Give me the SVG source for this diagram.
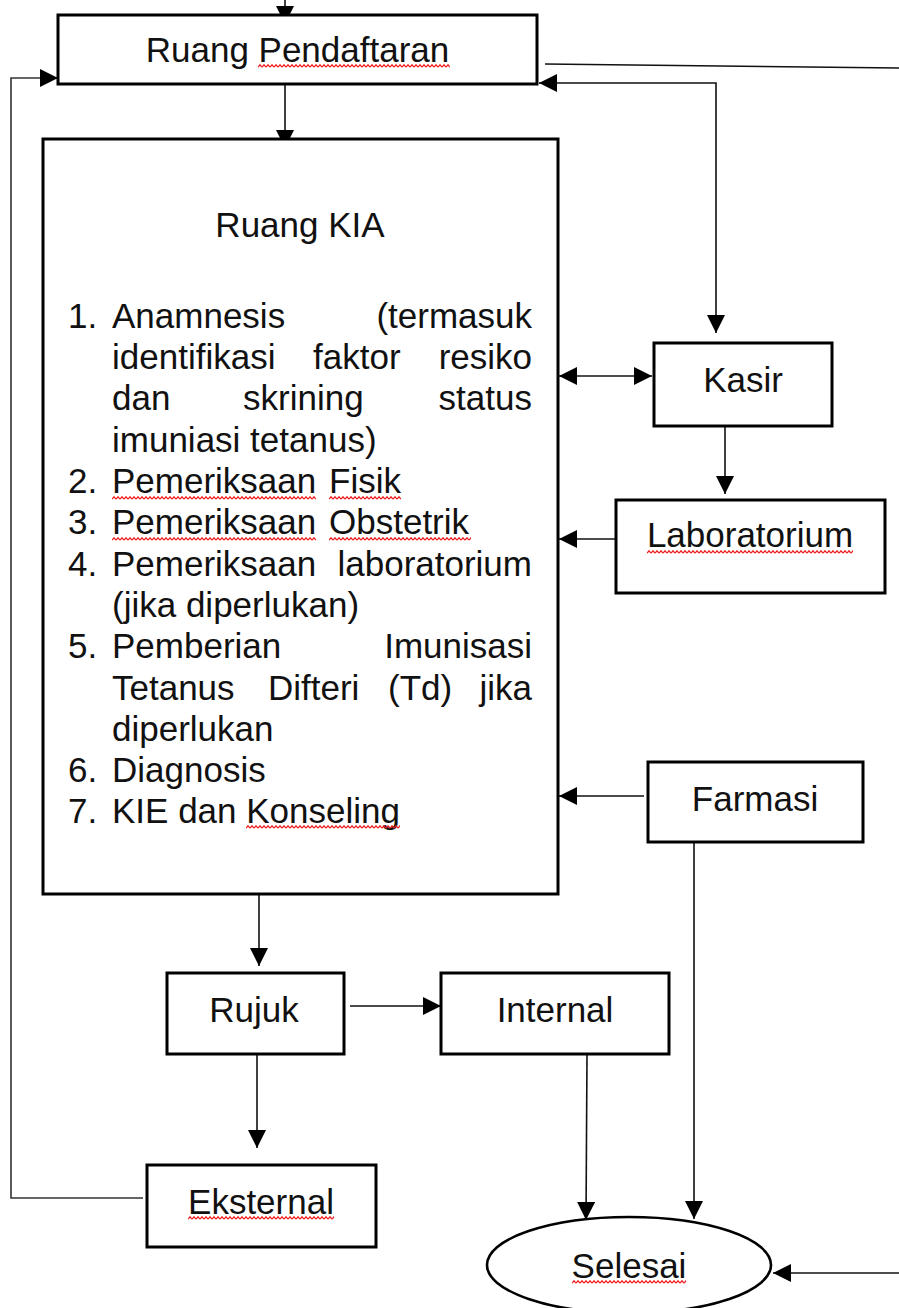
<svg xmlns="http://www.w3.org/2000/svg" width="899" height="1308" viewBox="0 0 899 1308">
  <style>
    .box { fill: #fff; stroke: #000; stroke-width: 3; }
    .t { font-family: "Liberation Sans", Arial, sans-serif; font-size: 35px; fill: #111; }
    .c { text-anchor: middle; }
    .e { text-anchor: end; }
    .ln { fill: none; stroke: #111; stroke-width: 1.6; }
    .arr { marker-end: url(#ah); }
    .sq { fill: url(#wave); }
  </style>
  <defs>
    <marker id="ah" markerUnits="userSpaceOnUse" markerWidth="18" markerHeight="18" refX="18" refY="9" orient="auto-start-reverse">
      <path d="M0,0 L18,9 L0,18 Z" fill="#000"/>
    </marker>
    <pattern id="wave" patternUnits="userSpaceOnUse" width="4" height="4">
      <path d="M0,3.2 L2,0.8 L4,3.2" fill="none" stroke="#ee1c1c" stroke-width="1.3"/>
    </pattern>
  </defs>

  <g id="connectors">
    <line class="ln arr" x1="285" y1="0" x2="285" y2="24"/>
    <line class="ln arr" x1="285" y1="84" x2="285" y2="148"/>
    <line class="ln" x1="545" y1="64" x2="899" y2="68"/>
    <path class="ln arr" d="M539,83 L716,83 L716,333" style="marker-start:url(#ah)"/>
    <line class="ln arr" x1="559" y1="376" x2="652" y2="376" style="marker-start:url(#ah)"/>
    <line class="ln arr" x1="725" y1="426" x2="725" y2="494"/>
    <line class="ln arr" x1="616" y1="539" x2="559" y2="539"/>
    <line class="ln arr" x1="644" y1="796" x2="559" y2="796"/>
    <line class="ln arr" x1="259" y1="894" x2="259" y2="966"/>
    <line class="ln arr" x1="350" y1="1006" x2="441" y2="1006"/>
    <line class="ln arr" x1="257" y1="1054" x2="257" y2="1148"/>
    <path class="ln arr" d="M143,1198 L11,1198 L11,78 L58,78" style="stroke:#333"/>
    <line class="ln arr" x1="587" y1="1054" x2="586" y2="1220"/>
    <line class="ln arr" x1="694" y1="842" x2="694" y2="1219"/>
    <line class="ln arr" x1="899" y1="1273" x2="773" y2="1273"/>
  </g>

  <g id="ruang-pendaftaran">
    <rect class="box" x="58" y="15" width="479" height="69"/>
    <text class="t c" x="297.5" y="62">Ruang Pendaftaran</text>
    <rect class="sq" x="0" y="0" width="192" height="4" transform="translate(258,64)"/>
  </g>

  <g id="ruang-kia">
    <rect class="box" x="43" y="139" width="515" height="755"/>
    <text class="t c" x="300" y="237">Ruang KIA</text>
    <text class="t" x="68" y="328">1.</text>
    <text class="t" x="112" y="328">Anamnesis</text>
    <text class="t e" x="532" y="328">(termasuk</text>
    <text class="t" x="112" y="369">identifikasi</text>
    <text class="t" x="313" y="369">faktor</text>
    <text class="t e" x="532" y="369">resiko</text>
    <text class="t" x="112" y="410">dan</text>
    <text class="t" x="243" y="410">skrining</text>
    <text class="t e" x="532" y="410">status</text>
    <text class="t" x="112" y="452">imuniasi tetanus)</text>
    <text class="t" x="68" y="493">2.</text>
    <text class="t" x="112" y="493">Pemeriksaan</text>
    <text class="t" x="329" y="493">Fisik</text>
    <text class="t" x="68" y="534">3.</text>
    <text class="t" x="112" y="534">Pemeriksaan</text>
    <text class="t" x="329" y="534">Obstetrik</text>
    <text class="t" x="68" y="576">4.</text>
    <text class="t" x="112" y="576">Pemeriksaan</text>
    <text class="t e" x="532" y="576">laboratorium</text>
    <text class="t" x="112" y="617">(jika diperlukan)</text>
    <text class="t" x="68" y="658">5.</text>
    <text class="t" x="112" y="658">Pemberian</text>
    <text class="t e" x="532" y="658">Imunisasi</text>
    <text class="t" x="112" y="700">Tetanus</text>
    <text class="t" x="268" y="700">Difteri</text>
    <text class="t" x="388" y="700">(Td)</text>
    <text class="t e" x="532" y="700">jika</text>
    <text class="t" x="112" y="741">diperlukan</text>
    <text class="t" x="68" y="782">6.</text>
    <text class="t" x="112" y="782">Diagnosis</text>
    <text class="t" x="68" y="823">7.</text>
    <text class="t" x="112" y="823">KIE dan Konseling</text>
    <rect class="sq" x="0" y="0" width="204" height="4" transform="translate(112,496)"/>
    <rect class="sq" x="0" y="0" width="72" height="4" transform="translate(329,496)"/>
    <rect class="sq" x="0" y="0" width="204" height="4" transform="translate(112,537)"/>
    <rect class="sq" x="0" y="0" width="142" height="4" transform="translate(329,537)"/>
    <rect class="sq" x="0" y="0" width="154" height="4" transform="translate(246,825)"/>
  </g>

  <g id="kasir">
    <rect class="box" x="654" y="343" width="178" height="83"/>
    <text class="t c" x="743" y="392">Kasir</text>
  </g>

  <g id="laboratorium">
    <rect class="box" x="616" y="500" width="269" height="93"/>
    <text class="t c" x="750" y="547">Laboratorium</text>
    <rect class="sq" x="0" y="0" width="206" height="4" transform="translate(647,550)"/>
  </g>

  <g id="farmasi">
    <rect class="box" x="648" y="762" width="215" height="80"/>
    <text class="t c" x="755" y="811">Farmasi</text>
  </g>

  <g id="rujuk">
    <rect class="box" x="167" y="973" width="177" height="81"/>
    <text class="t c" x="254" y="1022">Rujuk</text>
  </g>

  <g id="internal">
    <rect class="box" x="441" y="973" width="228" height="81"/>
    <text class="t c" x="555" y="1022">Internal</text>
  </g>

  <g id="eksternal">
    <rect class="box" x="147" y="1165" width="229" height="82"/>
    <text class="t c" x="261" y="1214">Eksternal</text>
    <rect class="sq" x="0" y="0" width="146" height="4" transform="translate(188,1216)"/>
  </g>

  <g id="selesai">
    <ellipse cx="629" cy="1265" rx="142" ry="48" fill="#fff" stroke="#000" stroke-width="2.6"/>
    <text class="t c" x="629" y="1278">Selesai</text>
    <rect class="sq" x="0" y="0" width="114" height="4" transform="translate(572,1280)"/>
  </g>
</svg>
